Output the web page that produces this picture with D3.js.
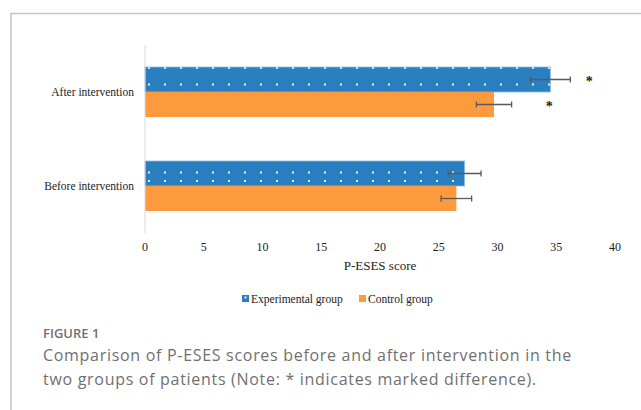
<!DOCTYPE html>
<html lang="en">
<head>
  <meta charset="UTF-8">
  <title>P-ESES scores</title>
  <script src="https://d3js.org/d3.v7.min.js"></script>
  <style>
    body { margin: 0; background: #fff; }
    .serif { font-family: 'Liberation Serif', 'Times New Roman', serif; fill: #222; }
    .cap { font-family: 'Open Sans', 'Noto Sans', sans-serif; fill: #707070; }
  </style>
</head>
<body>
  <svg id="chart" width="641" height="410"></svg>
  <script>
    const categories = ["After intervention", "Before intervention"];
    const seriesNames = ["Experimental group", "Control group"];
    const experimental = [34.5, 27.2];
    const experimentalErr = [1.7, 1.4];
    const control = [29.7, 26.5];
    const controlErr = [1.5, 1.3];
    // where the "*" marks sit, in score units (only after intervention)
    const starAt = [[37.8, 34.4], [null, null]];
    const xTicks = [0, 5, 10, 15, 20, 25, 30, 35, 40];

    const colors = { "Experimental group": "#2a7fc0", "Control group": "#fd9a3e" };

    const svg = d3.select("#chart");

    // outer frame (left and top edges only)
    svg.append("path")
      .attr("d", "M11,410 V13.5 H641")
      .attr("fill", "none")
      .attr("stroke", "#c6c6c6")
      .attr("stroke-width", 1.5);

    const x = d3.scaleLinear().domain([0, 40]).range([145, 615]);
    const y = d3.scaleBand().domain(categories).range([45, 233]).padding(0);
    const ySub = d3.scaleBand().domain(seriesNames).range([0, y.bandwidth()])
      .paddingInner(0).paddingOuter(0.88);

    const rows = categories.map((c, i) => ({
      cat: c,
      bars: [
        { s: "Experimental group", v: experimental[i], e: experimentalErr[i], star: starAt[i][0] },
        { s: "Control group", v: control[i], e: controlErr[i], star: starAt[i][1] }
      ]
    }));

    // dotted pattern for the experimental bars, one per row so dots line up with each bar
    const defs = svg.append("defs");
    rows.forEach((r, i) => {
      const top = y(r.cat) + ySub("Experimental group");
      const p = defs.append("pattern")
        .attr("id", "dots" + i)
        .attr("patternUnits", "userSpaceOnUse")
        .attr("x", x(0) + 3).attr("y", top)
        .attr("width", 16).attr("height", ySub.bandwidth());
      p.append("rect").attr("width", 16).attr("height", ySub.bandwidth()).attr("fill", colors["Experimental group"]);
      p.append("rect").attr("x", 0).attr("y", 5).attr("width", 2).attr("height", 2).attr("fill", "#e4eef8");
      p.append("rect").attr("x", 0).attr("y", 21.5).attr("width", 2).attr("height", 2).attr("fill", "#e4eef8");
    });

    // value axis labels
    svg.append("g").selectAll("text")
      .data(xTicks).join("text")
      .attr("class", "serif")
      .attr("x", d => x(d)).attr("y", 251)
      .attr("text-anchor", "middle")
      .attr("font-size", 12)
      .text(d => d);

    svg.append("text")
      .attr("class", "serif")
      .attr("x", (x(0) + x(40)) / 2).attr("y", 270)
      .attr("text-anchor", "middle")
      .attr("font-size", 13)
      .text("P-ESES score");

    // category labels
    svg.append("g").selectAll("text")
      .data(categories).join("text")
      .attr("class", "serif")
      .attr("x", 134).attr("y", d => y(d) + y.bandwidth() / 2 + 4)
      .attr("text-anchor", "end")
      .attr("font-size", 11.5)
      .text(d => d);

    const g = svg.append("g").selectAll("g")
      .data(rows).join("g")
      .attr("transform", d => `translate(0,${y(d.cat)})`);

    g.selectAll("rect.bar")
      .data((d, i) => d.bars.map(b => ({ ...b, row: i })))
      .join("rect")
      .attr("class", "bar")
      .attr("x", x(0))
      .attr("y", d => ySub(d.s))
      .attr("width", d => x(d.v) - x(0))
      .attr("height", ySub.bandwidth())
      .attr("fill", d => d.s === "Experimental group" ? `url(#dots${d.row})` : colors[d.s])
      .attr("stroke", d => d.s === "Experimental group" ? "#8fbbe3" : "none")
      .attr("stroke-width", 0.8);

    // error bars
    const eb = g.selectAll("g.err")
      .data(d => d.bars).join("g")
      .attr("class", "err")
      .attr("stroke", "#5a5a5a")
      .attr("stroke-width", 1.3);
    eb.append("line")
      .attr("x1", d => x(d.v - d.e)).attr("x2", d => x(d.v + d.e))
      .attr("y1", d => ySub(d.s) + ySub.bandwidth() / 2)
      .attr("y2", d => ySub(d.s) + ySub.bandwidth() / 2);
    eb.selectAll("line.cap")
      .data(d => [d.v - d.e, d.v + d.e].map(v => ({ v, s: d.s })))
      .join("line")
      .attr("class", "cap")
      .attr("x1", d => x(d.v)).attr("x2", d => x(d.v))
      .attr("y1", d => ySub(d.s) + ySub.bandwidth() / 2 - 3)
      .attr("y2", d => ySub(d.s) + ySub.bandwidth() / 2 + 3);

    g.selectAll("text.star")
      .data(d => d.bars.filter(b => b.star != null)).join("text")
      .attr("class", "serif star")
      .attr("x", d => x(d.star)).attr("y", d => ySub(d.s) + ySub.bandwidth() / 2 + 6)
      .attr("text-anchor", "middle")
      .attr("font-size", 14)
      .attr("font-weight", "bold")
      .text("*");

    // category axis line
    svg.append("line")
      .attr("x1", x(0)).attr("x2", x(0))
      .attr("y1", 45).attr("y2", 233)
      .attr("stroke", "#d9d9d9").attr("stroke-width", 1);

    // legend
    const legendX = [242, 359];
    const lg = svg.append("g").selectAll("g")
      .data(seriesNames).join("g")
      .attr("transform", (d, i) => `translate(${legendX[i]},295)`);
    lg.append("rect")
      .attr("width", 7).attr("height", 7)
      .attr("fill", d => colors[d]);
    lg.filter(d => d === "Experimental group").append("rect")
      .attr("x", 2.5).attr("y", 1.5).attr("width", 2).attr("height", 2).attr("fill", "#e4eef8");
    lg.append("text")
      .attr("class", "serif")
      .attr("x", 9).attr("y", 7.5)
      .attr("font-size", 11.5)
      .text(d => d);

    // caption
    svg.append("text")
      .attr("class", "cap")
      .attr("x", 43).attr("y", 338)
      .attr("font-size", 13).attr("font-weight", 600)
      .text("FIGURE 1");
    const capLines = [
      "Comparison of P-ESES scores before and after intervention in the",
      "two groups of patients (Note: * indicates marked difference)."
    ];
    svg.append("g").selectAll("text")
      .data(capLines).join("text")
      .attr("class", "cap")
      .attr("x", 43).attr("y", (d, i) => 361 + i * 23.5)
      .attr("font-size", 16)
      .attr("letter-spacing", 0.7)
      .text(d => d);
  </script>
</body>
</html>
